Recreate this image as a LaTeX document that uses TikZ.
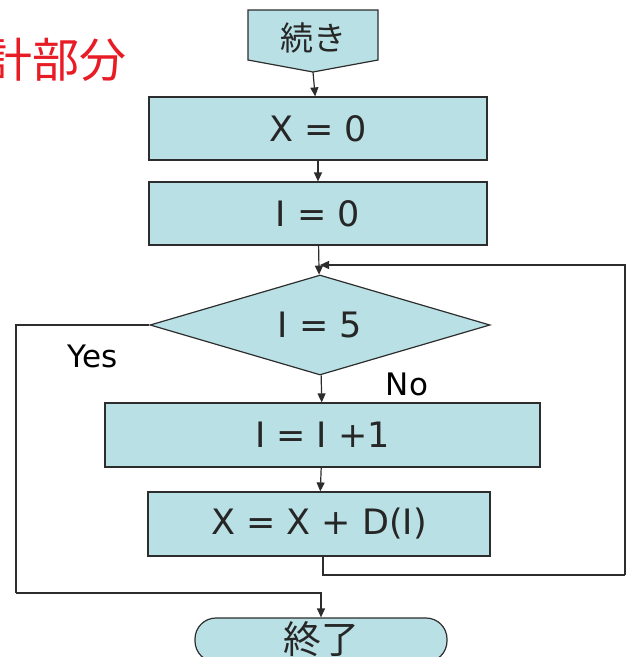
\documentclass[tikz,border=0pt]{standalone}
\usepackage{fontspec}
\setmainfont{DejaVu Sans}
\newfontfamily\jp{Noto Sans CJK JP}
\usepackage{tikz}
\usepackage{xcolor}
\usetikzlibrary{shapes.geometric,arrows.meta}
\definecolor{boxfill}{RGB}{185,224,228}
\definecolor{linegray}{RGB}{45,45,45}
\definecolor{titlered}{RGB}{232,28,36}

\begin{document}
\begin{tikzpicture}[x=1pt,y=-1pt]
      \useasboundingbox(0,0) rectangle (633,657);
      \tikzset{P/.style = {shape=rectangle, draw=linegray, fill=boxfill, line width=1.2pt, text=black!85, inner sep=0pt, font=\fontsize{35}{38}\selectfont}}
      \tikzset{D/.style = {shape=diamond, aspect=3.4, draw=linegray, fill=boxfill, line width=1.2pt, text=black!85, inner sep=0pt, minimum width=340, minimum height=100, font=\fontsize{35}{38}\selectfont}}
      \tikzset{T/.style = {shape=rectangle, rounded corners=21pt, draw=linegray, fill=boxfill, line width=1.2pt, text=black!85, inner sep=0pt, minimum width=252, minimum height=44, font=\jp\fontsize{38}{40}\selectfont}}
      \tikzset{E/.style = {draw=linegray, line width=1.2pt, -{Triangle[length=9pt,width=8pt]}}}
      \tikzset{L/.style = {draw=linegray, line width=1.2pt}}
      \node[text=titlered, anchor=east, inner sep=0pt, font=\jp\fontsize{47}{50}\selectfont](title) at (127,60) {計部分};
      % continuation mark
      \node[minimum width=130, minimum height=62, inner sep=0pt](cont) at (313,41) {};
      \draw[L, fill=boxfill] (248,10) -- (378,10) -- (378,60) -- (313,72) -- (248,60) -- cycle;
      \node[text=black!85, font=\jp\fontsize{33}{36}\selectfont] at (313,38) {続き};
      \node[P, minimum width=338, minimum height=63](x0) at (318,128.5) {X = 0};
      \node[P, minimum width=338, minimum height=63](i0) at (318,213.5) {I = 0};
      \node[D](cond) at (320,325) {I = 5};
      \node[P, minimum width=435, minimum height=64](inc) at (322.5,435) {I = I +1};
      \node[P, minimum width=342, minimum height=64](sum) at (319,524) {X = X + D(I)};
      \node[T](stop) at (321,640) {\raisebox{5pt}{終了}};
      \node[font=\fontsize{31}{34}\selectfont](yes) at (93,356) {Yes};
      \node[font=\fontsize{31}{34}\selectfont](no) at (407,384) {No};
      \coordinate (join) at (320,265);
      \coordinate (yl) at (16,593);
      \coordinate (rr) at (625,575);
      \draw[E](313,72) to (x0);
      \draw[E](x0) to (i0);
      \draw[E](i0) to (cond);
      \draw[E](cond) to (inc);
      \draw[E](inc) to (sum);
      \draw[L](cond.west) -| (yl);
      \draw[E](yl) -| (stop.north);
      \draw[L](sum.south -| 323,0) |- (rr);
      \draw[E](rr) |- (join);
    \end{tikzpicture}
\end{document}
